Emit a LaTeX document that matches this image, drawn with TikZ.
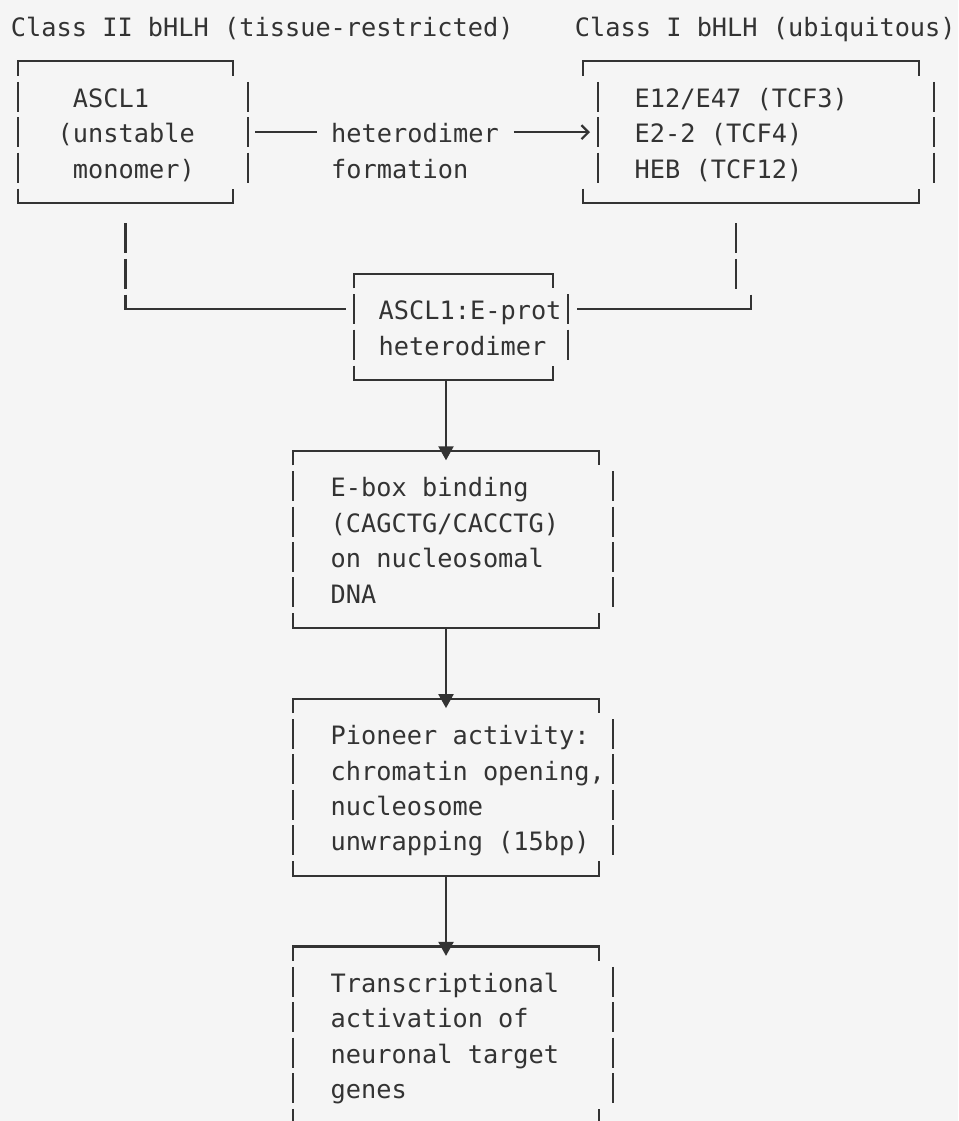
\documentclass[tikz,border=0pt]{standalone}
\usepackage{fontspec}
\setmonofont{DejaVu Sans Mono}
\usetikzlibrary{arrows.meta}
\definecolor{ink}{HTML}{333333}
\definecolor{paper}{HTML}{F5F5F5}
% row centre and row top of the character grid
\newcommand{\ry}[1]{26+35.4*(#1)}
\newcommand{\rtop}[1]{10.5+35.4*(#1)}
\newcommand{\rs}{\rule[-9pt]{0pt}{35pt}}
% frame: name, left corner, right corner, left bar, right bar, top row, bottom row
\newcommand{\asciiframe}[7]{%
  \draw[frameline] (#2,{\ry{#6}+14.5}) -- (#2,{\ry{#6}}) -- (#3,{\ry{#6}}) -- (#3,{\ry{#6}+14.5});
  \draw[frameline] (#2,{\ry{#7}-14.5}) -- (#2,{\ry{#7}}) -- (#3,{\ry{#7}}) -- (#3,{\ry{#7}-14.5});
  \draw[frameline,glyphbar] (#4,{\ry{#6}+20.4}) -- (#4,{\ry{#7}-17.7});
  \draw[frameline,glyphbar] (#5,{\ry{#6}+20.4}) -- (#5,{\ry{#7}-17.7});
  \coordinate (#1-n) at ({(#2+#3)/2},{\ry{#6}});
  \coordinate (#1-s) at ({(#2+#3)/2},{\ry{#7}});
  \coordinate (#1-w) at (#4,{\ry{#6+1}});
  \coordinate (#1-e) at (#5,{\ry{#6+1}});
}

\begin{document}
\begin{tikzpicture}[x=1pt,y=-1pt,
  txt/.style={font=\ttfamily\fontsize{25.3}{35.4}\selectfont, text=ink, inner sep=0pt,
    anchor=north west, align=left},
  frameline/.style={draw=ink, line width=2.2pt},
  glyphbar/.style={dash pattern=on 30pt off 5.4pt},
  downarrow/.style={frameline, -{Triangle[length=14pt,width=15pt]}},
  chevron/.style={frameline, -{Straight Barb[length=7pt,width=14pt]}}]
\useasboundingbox (0,0) rectangle (958,1121);
\fill[paper] (0,0) rectangle (958,1121);
\clip (0,0) rectangle (958,1121);
% Texts
\node[txt] (cls2) at (10.7,{\rtop{0}}) {\rs Class II bHLH (tissue-restricted)};
\node[txt] (cls1) at (574.7,{\rtop{0}}) {\rs Class I bHLH (ubiquitous)};
\node[txt] (asc) at (57.5,{\rtop{2}}) {\rs~ASCL1\\(unstable\\~monomer)};
\node[txt] (eprot) at (634.5,{\rtop{2}}) {\rs E12/E47 (TCF3)\\E2-2 (TCF4)\\HEB (TCF12)};
\node[txt] (het) at (331,{\rtop{3}}) {\rs heterodimer\\formation};
\node[txt] (dimer) at (378.5,{\rtop{8}}) {\rs ASCL1:E-prot\\heterodimer};
\node[txt] (ebox) at (330.5,{\rtop{13}}) {\rs E-box binding\\(CAGCTG/CACCTG)\\on nucleosomal\\DNA};
\node[txt] (pion) at (330.5,{\rtop{20}}) {\rs Pioneer activity:\\chromatin opening,\\nucleosome\\unwrapping (15bp)};
\node[txt] (trans) at (330.5,{\rtop{27}}) {\rs Transcriptional\\activation of\\neuronal target\\genes};
% Frames
\asciiframe{asc}{18}{233}{18}{248}{1}{5}
\asciiframe{eprot}{583}{919}{598}{934}{1}{5}
\asciiframe{dimer}{354}{553}{354}{568}{7}{10}
\asciiframe{ebox}{293}{599}{293}{613}{12}{17}
\asciiframe{pion}{293}{599}{293}{613}{19}{24}
\asciiframe{trans}{293}{599}{293}{613}{26}{31}
% Heterodimer formation
\coordinate (hrow) at (0,{\ry{3}});
\draw[frameline] ([xshift=7pt]asc-e |- hrow) -- ([xshift=-14pt]het.west |- hrow);
\draw[chevron] ([xshift=15pt]het.east |- hrow) -- ([xshift=-8pt]eprot-w |- hrow);
% Both partners into the dimer
\draw[frameline,glyphbar] ([yshift=-20.4pt]asc-s) -- ++(0,65.4);
\draw[frameline] ([yshift=14.5pt]asc-s |- dimer-w) -- (asc-s |- dimer-w) -- ([xshift=-8pt]dimer-w);
\draw[frameline,glyphbar] ([xshift=-15pt,yshift=-20.4pt]eprot-s) -- ++(0,65.4);
\draw[frameline] ([yshift=14.5pt]eprot-s |- dimer-e) -- (eprot-s |- dimer-e) -- ([xshift=9pt]dimer-e);
% Main chain
\coordinate (spine) at (446,0);
\draw[downarrow] (spine |- dimer-s) -- ([yshift=-9.5pt]spine |- ebox-n);
\draw[downarrow] (spine |- ebox-s) -- ([yshift=-9.5pt]spine |- pion-n);
\draw[downarrow] (spine |- pion-s) -- ([yshift=-9.5pt]spine |- trans-n);
\end{tikzpicture}
\end{document}
